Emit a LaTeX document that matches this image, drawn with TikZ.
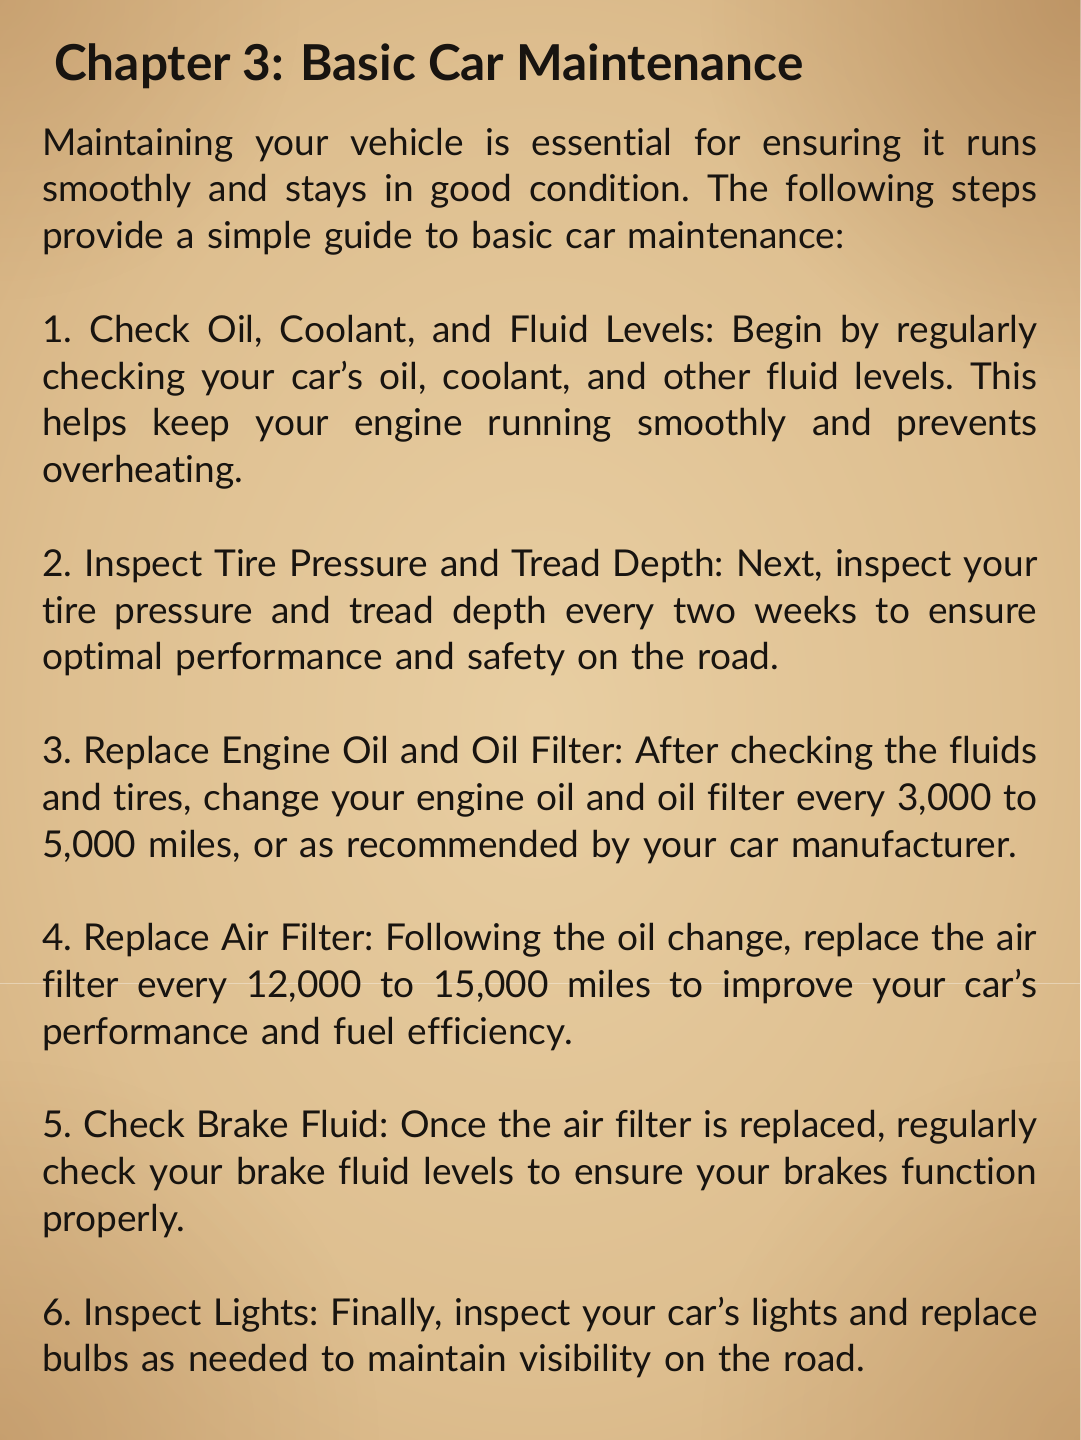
\documentclass[tikz,border=0pt]{standalone}
\usepackage{fontspec}
\setmainfont{Lato}[Ligatures=NoCommon]
\usetikzlibrary{fadings}
\definecolor{ink}{RGB}{24,20,16}
\definecolor{pin}{RGB}{232,206,162}
\definecolor{pmid}{RGB}{222,191,144}
\definecolor{pout}{RGB}{206,166,116}
\definecolor{pdark}{RGB}{168,124,78}
\pgfdeclareradialshading{parch}{\pgfpoint{0bp}{0bp}}{color(0bp)=(pin); color(22bp)=(pmid); color(42bp)=(pout); color(60bp)=(pdark); color(75bp)=(pdark)}
\tikzfading[name=softspot, inner color=transparent!0, outer color=transparent!100]
\makeatletter
\def\jw@rds#1 #2\relax{#1\ifx\relax#2\relax\else\hskip 0.26em plus 1fil minus 0.08em\jw@rds#2\relax\fi}
\newcommand\jline[1]{\hbox to 995pt{\jw@rds#1 \relax}}
\makeatother
\newcommand\lline[1]{\hbox{#1}}
\newcommand\gap{\vskip 46.8pt}
\begin{document}
\begin{tikzpicture}[x=1pt,y=-1pt,
  bodytext/.style={anchor=base west, inner sep=0pt, text width=995pt, text=ink,
    font=\fontsize{37}{46.8}\selectfont\frenchspacing},
  titletext/.style={anchor=base west, inner sep=0pt, text=ink,
    font=\fontsize{49.5}{58}\selectfont\bfseries},
  spot/.style={fill=pdark, path fading=softspot}]
\useasboundingbox (0,0) rectangle (1080,1440);
\fill[shading=parch] (0,0) rectangle (1080,1440);
\fill[spot, opacity=0.5] (1080,0) circle [radius=380];
\fill[spot, opacity=0.3] (0,1440) circle [radius=380];
\fill[spot, opacity=0.3] (1080,1440) circle [radius=380];
\fill[spot, opacity=0.25] (0,0) circle [radius=300];
\draw[white, opacity=0.35, line width=1pt] (0,983) -- (1080,983);
\node[titletext] (title) at (54,80) {Chapter 3: Basic Car Maintenance};
\node[bodytext] (body) at (42,155) {%
\jline{Maintaining your vehicle is essential for ensuring it runs}
\jline{smoothly and stays in good condition. The following steps}
\lline{provide a simple guide to basic car maintenance:}
\gap
\jline{1. Check Oil, Coolant, and Fluid Levels: Begin by regularly}
\jline{checking your car’s oil, coolant, and other fluid levels. This}
\jline{helps keep your engine running smoothly and prevents}
\lline{overheating.}
\gap
\jline{2. Inspect Tire Pressure and Tread Depth: Next, inspect your}
\jline{tire pressure and tread depth every two weeks to ensure}
\lline{optimal performance and safety on the road.}
\gap
\jline{3. Replace Engine Oil and Oil Filter: After checking the fluids}
\jline{and tires, change your engine oil and oil filter every 3,000 to}
\lline{5,000 miles, or as recommended by your car manufacturer.}
\gap
\jline{4. Replace Air Filter: Following the oil change, replace the air}
\jline{filter every 12,000 to 15,000 miles to improve your car’s}
\lline{performance and fuel efficiency.}
\gap
\jline{5. Check Brake Fluid: Once the air filter is replaced, regularly}
\jline{check your brake fluid levels to ensure your brakes function}
\lline{properly.}
\gap
\jline{6. Inspect Lights: Finally, inspect your car’s lights and replace}
\lline{bulbs as needed to maintain visibility on the road.}%
};
\end{tikzpicture}
\end{document}
